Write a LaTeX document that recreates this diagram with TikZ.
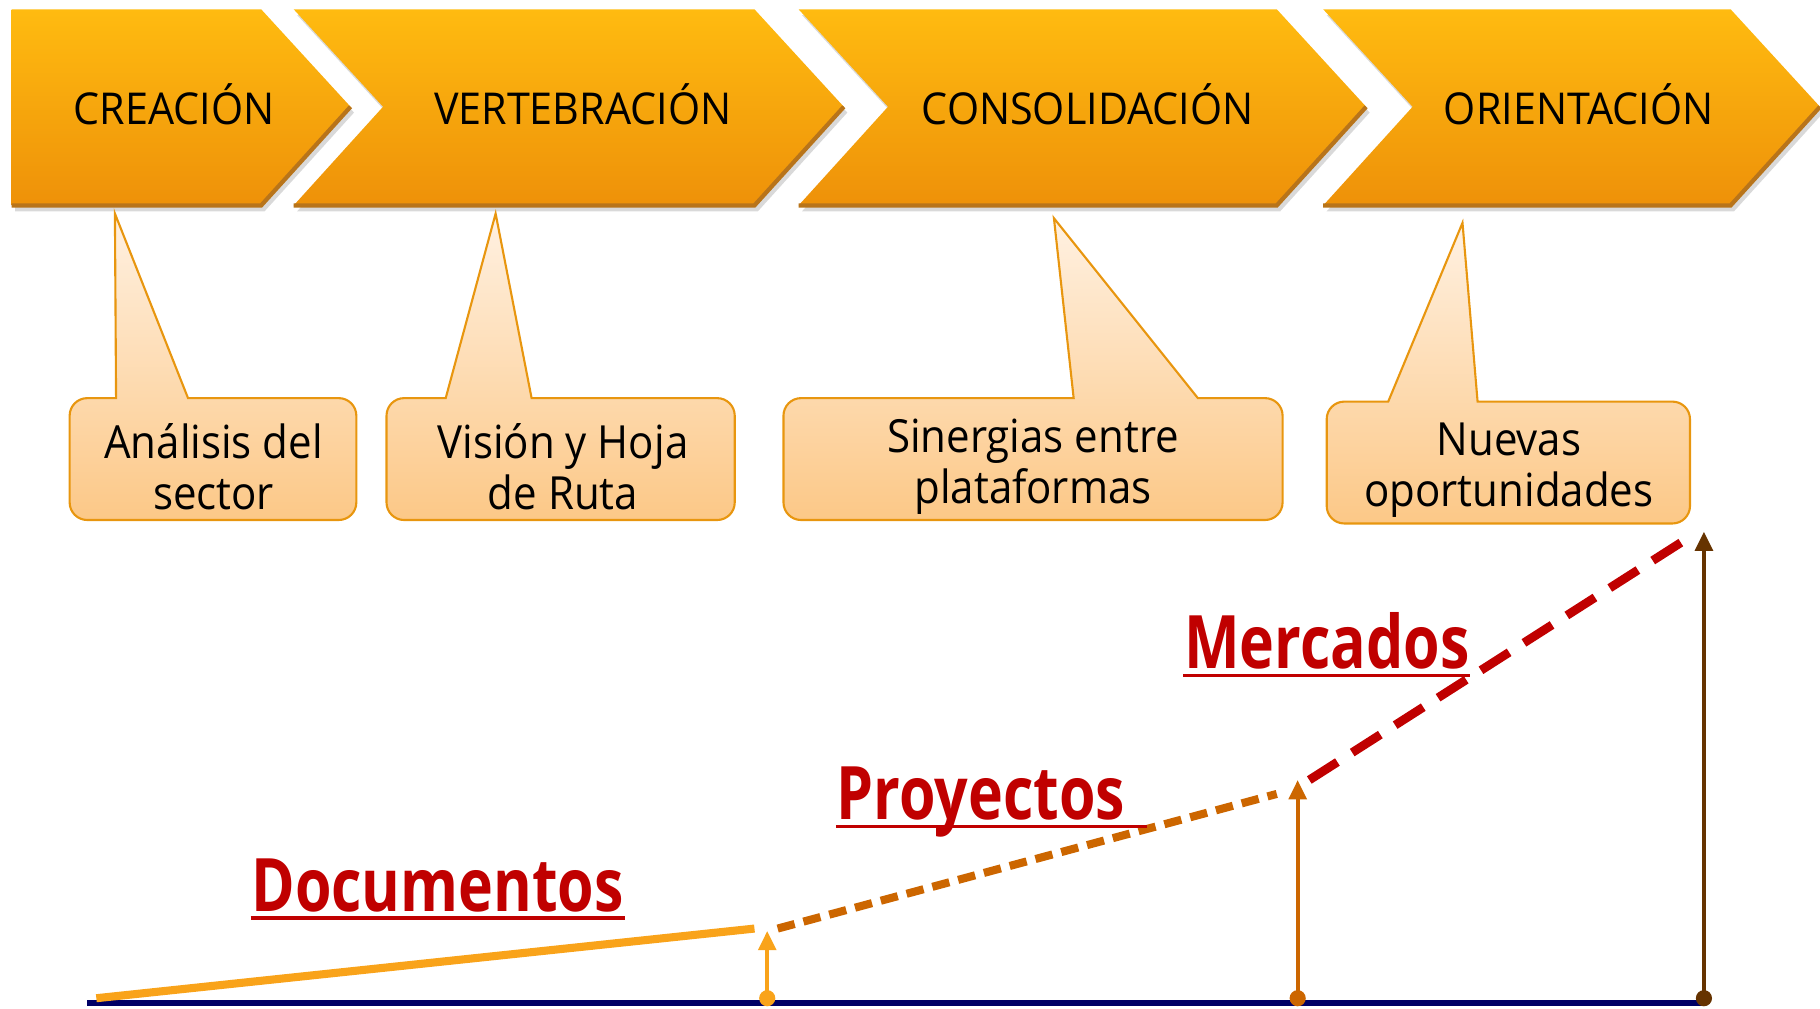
\documentclass[tikz,border=0pt]{standalone}
\usepackage{fontspec}
\setmainfont{Open Sans}
\newfontfamily\phasefont{Open Sans}[FakeStretch=0.94]
\newfontfamily\notefont{Open Sans}[FakeStretch=0.92]
\newfontfamily\levelfont{Open Sans}[FakeStretch=0.8]
\usetikzlibrary{arrows.meta,positioning}

\definecolor{chevtop}{HTML}{FFBB10}
\definecolor{chevbot}{HTML}{EE9109}
\definecolor{chevedge}{HTML}{B8741A}
\definecolor{calltop}{HTML}{FFF1E2}
\definecolor{callbot}{HTML}{FCC887}
\definecolor{callline}{HTML}{E8960F}
\definecolor{docorange}{HTML}{F9A31A}
\definecolor{proorange}{HTML}{CC6600}
\definecolor{merred}{HTML}{C00000}
\definecolor{merbrown}{HTML}{663300}
\definecolor{axisblue}{HTML}{000066}

\begin{document}
\begin{tikzpicture}[x=0.011607cm, y=-0.011607cm,
		phase/.style={font=\phasefont\fontsize{12.5}{14}\selectfont, text=black},
		note/.style={font=\notefont\fontsize{13}{14.5}\selectfont, align=center},
		callout/.style={top color=calltop, bottom color=callbot, draw=callline, line width=0.6pt},
		level/.style={font=\levelfont\bfseries\fontsize{21}{24}\selectfont, text=merred, inner sep=0pt, anchor=base},
		ul/.style={draw=merred, line width=1pt},
		rise/.style={-{Triangle[length=5.5pt,width=5pt]}, line width=1.2pt},
	]
	\useasboundingbox (0,0) rectangle (1568,869);

	% phases
	\foreach \xa/\xb/\dn/\xt/\nm/\txt in {10/225/0/150/crea/CREACIÓN, 253/650/77/502/vert/VERTEBRACIÓN, 688/1100/77/937/cons/CONSOLIDACIÓN, 1140/1491/77/1360/orie/ORIENTACIÓN}{
		\fill[black, opacity=0.15] (\xa+3,13) -- (\xb+3,13) -- (\xb+80,97) -- (\xb+3,182) -- (\xa+3,182) -- (\xa+\dn+3,97) -- cycle;
		\shade[top color=chevtop, bottom color=chevbot] (\xa,8) -- (\xb,8) -- (\xb+77,92) -- (\xb,177) -- (\xa,177) -- (\xa+\dn,92) -- cycle;
		\draw[chevedge, line width=1.2pt] (\xa,177) -- (\xb,177) -- (\xb+77,92);
		\node[phase] (\nm) at (\xt,90) {\txt};
	}

	% callouts
	\foreach \l/\r/\t/\b/\bl/\br/\px/\py/\cx/\nm/\txt in {60/307/343/448/100/162/99/184/184/ana/{Análisis del\\sector}, 333/633/343/448/384/458/427/184/485/vis/{Visión y Hoja\\de Ruta}, 675/1105/343/448/925/1032/908/188/890/sin/{Sinergias entre\\plataformas}, 1143/1456/346/451/1196/1273/1260/192/1300/nue/{Nuevas\\oportunidades}}{
		\shadedraw[callout] (\l,\t+50) [rounded corners=5pt] -- (\l,\t) [sharp corners] -- (\bl,\t) -- (\px,\py) -- (\br,\t) [rounded corners=5pt] -- (\r,\t) -- (\r,\b) -- (\l,\b) -- cycle;
		\node[note] (\nm) at (\cx,\t+59) {\txt};
	}

	% growth
	\coordinate (o) at (75,864);
	\coordinate (e) at (1470,864);
	\coordinate (d0) at (83,860);
	\coordinate (d1) at (650,800);
	\coordinate (p0) at (670,800);
	\coordinate (p1) at (1100,684);
	\coordinate (m0) at (1128,672);
	\coordinate (m1) at (1452,465);
	\coordinate (b1) at (661,860);
	\coordinate (t1) at (661,802);
	\coordinate (b2) at (1118,860);
	\coordinate (t2) at (1118,672);
	\coordinate (b3) at (1468,860);
	\coordinate (t3) at (1468,458);

	\draw[axisblue, line width=1.8pt] (o) -- (e);
	\draw[docorange, line width=2.3pt] (d0) -- (d1);
	\draw[proorange, line width=2.3pt, dash pattern=on 5pt off 2.6pt] (p0) -- (p1);
	\draw[merred, line width=2.5pt, dash pattern=on 9.5pt off 5pt] (m0) -- (m1);

	\draw[rise, docorange] (b1) -- (t1);
	\fill[docorange] (b1) circle[radius=2.3pt];
	\draw[rise, proorange] (b2) -- (t2);
	\fill[proorange] (b2) circle[radius=2.3pt];
	\draw[rise, merbrown] (b3) -- (t3);
	\fill[merbrown] (b3) circle[radius=2.3pt];

	\node[level] (doc) at (377,785) {Documentos};
	\node[level] (pro) at (845,706) {Proyectos};
	\node[level] (mer) at (1143,576) {Mercados};
	\draw[ul] ([yshift=-2pt]doc.base west) -- ([yshift=-2pt]doc.base east);
	\draw[ul] ([yshift=-2pt]pro.base west) -- ([xshift=6pt,yshift=-2pt]pro.base east);
	\draw[ul] ([yshift=-2pt]mer.base west) -- ([yshift=-2pt]mer.base east);
\end{tikzpicture}
\end{document}
